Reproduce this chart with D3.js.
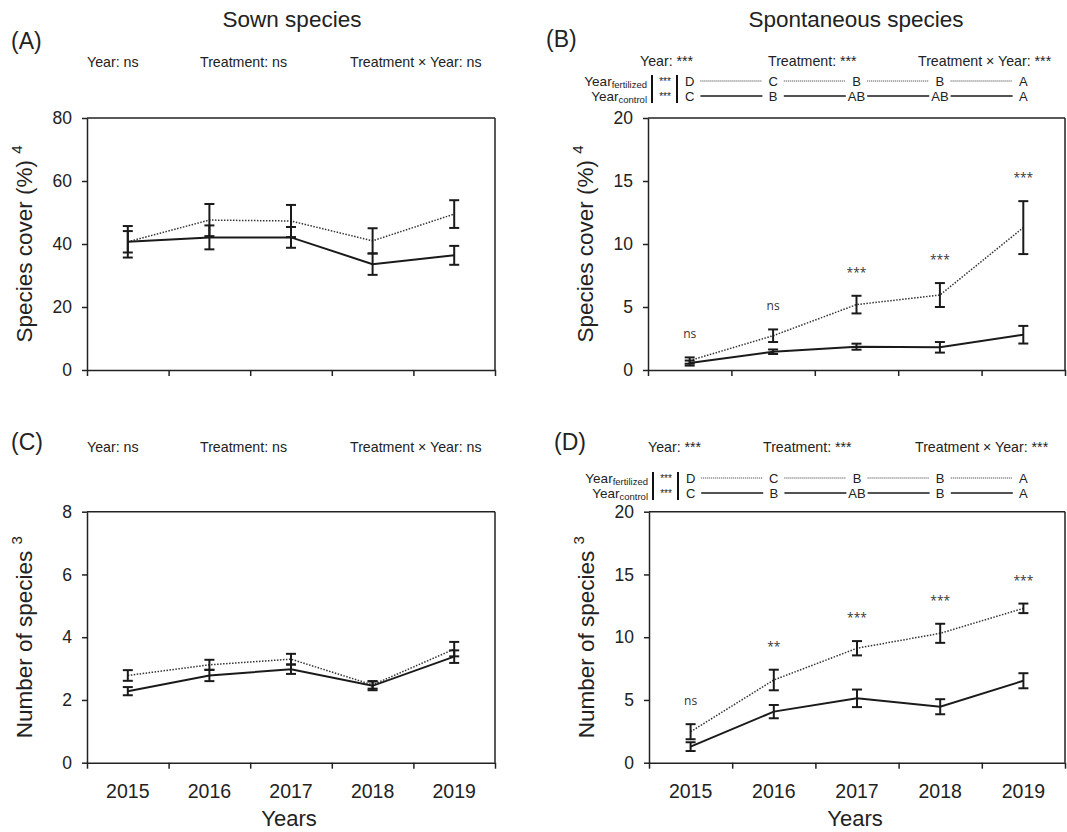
<!DOCTYPE html>
<html lang="en">
<head>
<meta charset="UTF-8">
<title>Sown and spontaneous species</title>
<script src="https://cdn.jsdelivr.net/npm/d3@7"></script>
<style>
  body { margin: 0; background: #fff; }
  svg text { font-family: "Liberation Sans", Arial, sans-serif; fill: #222; }
  .sig { font-family: "Open Sans", sans-serif; fill: #333; }
</style>
</head>
<body>
<svg id="chart" width="1067" height="832"></svg>
<script>

// DATA (means and standard errors)
var years = ["2015", "2016", "2017", "2018", "2019"];

var sownCoverFert   = [40.7, 47.6, 47.3, 41.0, 49.5];
var sownCoverFertSE = [5.0, 5.1, 5.1, 4.0, 4.4];
var sownCoverCtrl   = [40.7, 42.1, 42.1, 33.6, 36.4];
var sownCoverCtrlSE = [3.4, 3.8, 3.3, 3.4, 3.0];

var spontCoverFert   = [0.75, 2.72, 5.19, 5.95, 11.3];
var spontCoverFertSE = [0.25, 0.5, 0.7, 0.95, 2.1];
var spontCoverCtrl   = [0.55, 1.45, 1.85, 1.8, 2.8];
var spontCoverCtrlSE = [0.2, 0.18, 0.24, 0.42, 0.7];

var sownRichFert   = [2.78, 3.12, 3.3, 2.48, 3.62];
var sownRichFertSE = [0.17, 0.16, 0.17, 0.12, 0.23];
var sownRichCtrl   = [2.28, 2.78, 2.98, 2.45, 3.38];
var sownRichCtrlSE = [0.13, 0.18, 0.15, 0.14, 0.2];

var spontRichFert   = [2.47, 6.59, 9.12, 10.31, 12.3];
var spontRichFertSE = [0.6, 0.82, 0.57, 0.76, 0.38];
var spontRichCtrl   = [1.28, 4.07, 5.13, 4.46, 6.53];
var spontRichCtrlSE = [0.35, 0.53, 0.7, 0.6, 0.6];

var sigCover = ["ns", "ns", "***", "***", "***"];
var sigRich  = ["ns", "**", "***", "***", "***"];

var lettersFert       = ["D", "C", "B", "B", "A"];
var lettersCoverCtrl  = ["C", "B", "AB", "AB", "A"];
var lettersRichCtrl   = ["C", "B", "AB", "B", "A"];

var statsSown  = ["Year: ns", "Treatment: ns", "Treatment \u00d7 Year: ns"];
var statsSpont = ["Year: ***", "Treatment: ***", "Treatment \u00d7 Year: ***"];

var svg = d3.select("#chart");

// PANELS
var panels = [
  { tag: "(A)", tagX: 11, tagY: 49, title: "Sown species", titleX: 292,
    left: 87, right: 495, top: 118, bottom: 370, yMax: 80, yTicks: [0, 20, 40, 60, 80],
    yLabel: "Species cover (%)", sup: "4",
    stats: statsSown, statsX: [87, 200, 350], statsY: 67,
    fert: sownCoverFert, fertSE: sownCoverFertSE, ctrl: sownCoverCtrl, ctrlSE: sownCoverCtrlSE },
  { tag: "(B)", tagX: 546, tagY: 47, title: "Spontaneous species", titleX: 856,
    left: 648, right: 1065, top: 118, bottom: 370, yMax: 20, yTicks: [0, 5, 10, 15, 20],
    yLabel: "Species cover (%)", sup: "4",
    stats: statsSpont, statsX: [640, 768, 918], statsY: 66,
    fert: spontCoverFert, fertSE: spontCoverFertSE, ctrl: spontCoverCtrl, ctrlSE: spontCoverCtrlSE,
    sig: sigCover, lettersF: lettersFert, lettersC: lettersCoverCtrl, rowF: 86, rowC: 101 },
  { tag: "(C)", tagX: 11, tagY: 450,
    left: 87, right: 495, top: 511.7, bottom: 762.7, yMax: 8, yTicks: [0, 2, 4, 6, 8],
    yLabel: "Number of species", sup: "3", years: true,
    stats: statsSown, statsX: [87, 200, 350], statsY: 452,
    fert: sownRichFert, fertSE: sownRichFertSE, ctrl: sownRichCtrl, ctrlSE: sownRichCtrlSE },
  { tag: "(D)", tagX: 554, tagY: 450,
    left: 649, right: 1065, top: 511.7, bottom: 762.7, yMax: 20, yTicks: [0, 5, 10, 15, 20],
    yLabel: "Number of species", sup: "3", years: true,
    stats: statsSpont, statsX: [648, 763, 915], statsY: 452,
    fert: spontRichFert, fertSE: spontRichFertSE, ctrl: spontRichCtrl, ctrlSE: spontRichCtrlSE,
    sig: sigRich, lettersF: lettersFert, lettersC: lettersRichCtrl, rowF: 483, rowC: 498 }
];

panels.forEach(function (p) {
  var g = svg.append("g");

  var y = d3.scaleLinear().domain([0, p.yMax]).range([p.bottom, p.top]);
  var xb = d3.scaleBand().domain(years).range([p.left, p.right]);
  var xt = d3.scaleLinear().domain([0, years.length]).range([p.left, p.right]);
  var cx = function (i) { return xb(years[i]) + xb.bandwidth() / 2; };

  // tag + title
  g.append("text").attr("x", p.tagX).attr("y", p.tagY).style("font-size", "23px").text(p.tag);
  if (p.title) {
    g.append("text").attr("x", p.titleX).attr("y", 27).attr("text-anchor", "middle")
      .style("font-size", "22.5px").text(p.title);
  }

  // stats line
  p.stats.forEach(function (s, i) {
    g.append("text").attr("x", p.statsX[i]).attr("y", p.statsY).style("font-size", "14.2px").text(s);
  });

  // frame (top + right)
  g.append("line").attr("x1", p.left).attr("x2", p.right).attr("y1", p.top).attr("y2", p.top)
    .attr("stroke", "#222").attr("stroke-width", 1.5);
  g.append("line").attr("x1", p.right).attr("x2", p.right).attr("y1", p.top).attr("y2", p.bottom)
    .attr("stroke", "#222").attr("stroke-width", 1.5);

  // y axis
  var ya = g.append("g").attr("transform", "translate(" + p.left + ",0)")
    .call(d3.axisLeft(y).tickValues(p.yTicks).tickSize(5).tickPadding(10).tickSizeOuter(0));
  ya.selectAll("text").style("font-size", "17.5px");

  // x ticks at band edges
  var xa = g.append("g").attr("transform", "translate(0," + p.bottom + ")")
    .call(d3.axisBottom(xt).ticks(years.length).tickSize(6).tickFormat("").tickSizeOuter(0));

  [ya, xa].forEach(function (a) {
    a.select(".domain").attr("stroke", "#222").attr("stroke-width", 1.5);
    a.selectAll(".tick line").attr("stroke", "#222").attr("stroke-width", 1.5);
  });

  if (p.years) {
    var xl = g.append("g").attr("transform", "translate(0," + p.bottom + ")")
      .call(d3.axisBottom(xb).tickSize(0).tickPadding(21));
    xl.select(".domain").remove();
    xl.selectAll("text").style("font-size", "19.5px");
    g.append("text").attr("x", (p.left + p.right) / 2 - 2).attr("y", 826).attr("text-anchor", "middle")
      .style("font-size", "22px").text("Years");
  }

  // y label
  var yl = g.append("text")
    .attr("transform", "translate(" + (p.left - 55) + "," + ((p.top + p.bottom) / 2) + ") rotate(-90)")
    .attr("text-anchor", "middle").style("font-size", "22.5px");
  yl.append("tspan").text(p.yLabel + " ");
  yl.append("tspan").attr("dy", -10).style("font-size", "15px").text(p.sup);

  // lines
  var line = d3.line().x(function (d, i) { return cx(i); }).y(function (d) { return y(d); });
  g.append("path").datum(p.fert).attr("d", line).attr("fill", "none")
    .attr("stroke", "#333").attr("stroke-width", 1.5).attr("stroke-dasharray", "1.5,1.5");
  g.append("path").datum(p.ctrl).attr("d", line).attr("fill", "none")
    .attr("stroke", "#1a1a1a").attr("stroke-width", 2);

  // error bars
  function errBars(vals, se) {
    vals.forEach(function (v, i) {
      var x = cx(i), hi = y(v + se[i]), lo = y(v - se[i]);
      g.append("line").attr("x1", x).attr("x2", x).attr("y1", hi).attr("y2", lo)
        .attr("stroke", "#1a1a1a").attr("stroke-width", 2);
      [hi, lo].forEach(function (yy) {
        g.append("line").attr("x1", x - 5).attr("x2", x + 5).attr("y1", yy).attr("y2", yy)
          .attr("stroke", "#1a1a1a").attr("stroke-width", 2);
      });
    });
  }
  errBars(p.fert, p.fertSE);
  errBars(p.ctrl, p.ctrlSE);

  // significance per year
  if (p.sig) {
    p.sig.forEach(function (s, i) {
      g.append("text").attr("class", "sig").attr("x", cx(i)).attr("y", y(p.fert[i] + p.fertSE[i]) - 19)
        .attr("text-anchor", "middle").style("font-size", "12px").text(s);
    });
  }

  // post-hoc letter rows
  if (p.lettersF) {
    var rows = [
      { name: "fertilized", y: p.rowF, letters: p.lettersF, dash: "1,1", w: 1.2, col: "#333" },
      { name: "control", y: p.rowC, letters: p.lettersC, dash: null, w: 1.3, col: "#1a1a1a" }
    ];
    rows.forEach(function (r) {
      var t = g.append("text").attr("x", p.left - 1).attr("y", r.y).attr("text-anchor", "end")
        .style("font-size", "13.5px");
      t.append("tspan").text("Year");
      t.append("tspan").attr("dy", 2).style("font-size", "9.5px").text(r.name);
      g.append("text").attr("x", p.left + 17).attr("y", r.y - 1).attr("text-anchor", "middle")
        .style("font-size", "10px").text("***");
      r.letters.forEach(function (l, i) {
        g.append("text").attr("x", cx(i)).attr("y", r.y).attr("text-anchor", "middle")
          .style("font-size", "13px").text(l);
      });
      for (var k = 1; k < years.length; k++) {
        g.append("line").attr("x1", xt(k) - 31).attr("x2", xt(k) + 31)
          .attr("y1", r.y - 5).attr("y2", r.y - 5)
          .attr("stroke", r.col).attr("stroke-width", r.w).attr("stroke-dasharray", r.dash);
      }
    });
    [p.left + 4, p.left + 29].forEach(function (bx) {
      g.append("line").attr("x1", bx).attr("x2", bx).attr("y1", p.rowF - 11).attr("y2", p.rowC + 2)
        .attr("stroke", "#111").attr("stroke-width", 2);
    });
  }
});

</script>
</body>
</html>
